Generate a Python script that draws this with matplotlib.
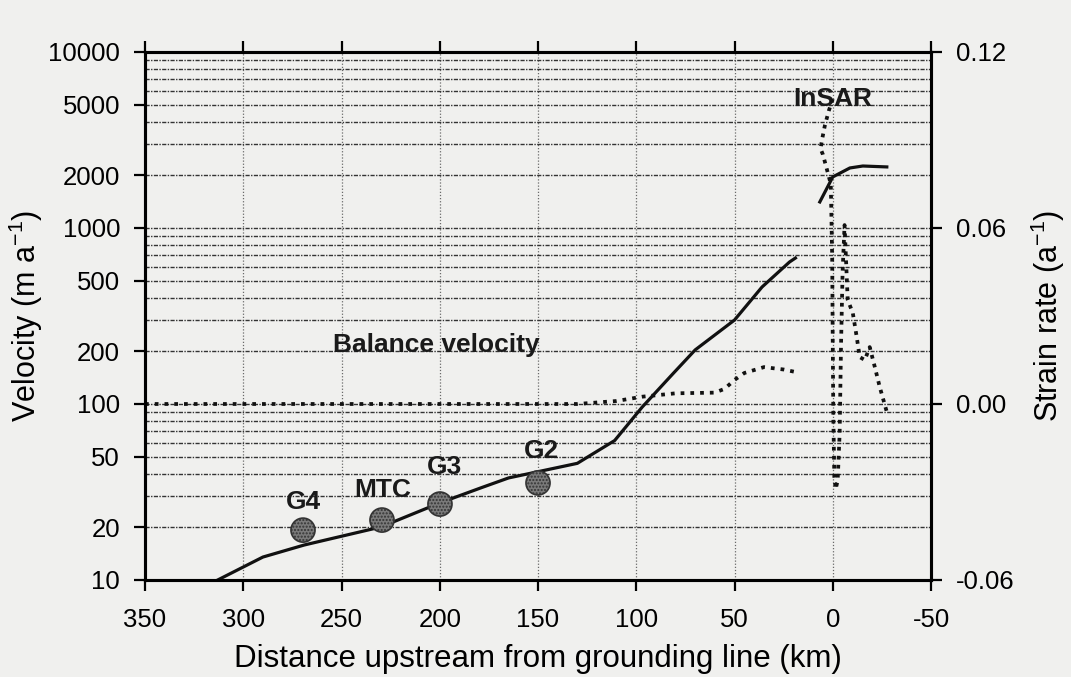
import numpy as np
import matplotlib
matplotlib.use('Agg')
import matplotlib.pyplot as plt
from matplotlib.ticker import FixedLocator, LogLocator, NullFormatter

plt.rcParams['font.family'] = ['Liberation Sans', 'DejaVu Sans']
plt.rcParams['axes.unicode_minus'] = False
plt.rcParams['mathtext.default'] = 'regular'
plt.rcParams['hatch.color'] = '#333333'

# modelled velocity along the flowline (km upstream, m/a)
model_km = [313, 290, 269, 230, 200, 179, 165, 130, 111, 97, 81, 70, 50, 36, 22, 19]
model_vel = [10, 13.5, 15.8, 20, 27.4, 33.4, 38, 46, 62, 96, 150, 203, 300, 462, 641, 675]

# balance velocity
bal_km = [350, 130, 125, 110, 97, 80, 60, 55, 50, 45, 35, 25, 19]
bal_vel = [100, 100, 101, 104, 110, 115, 116, 122, 137, 150, 162, 157, 152]

# InSAR velocity near the grounding line
insar_km = [6.6, 0.0, -8.7, -15.3, -27.5]
insar_vel = [1406, 1950, 2193, 2250, 2223]

# InSAR strain rate (1/a)
strain_km = [0.0, 2.0, 4.0, 5.5, 6.2, 5.0, 1.0, 0.3, 0.0, -0.3, -0.8, -1.5, -2.5, -3.5,
             -4.2, -5.0, -6.0, -7.6, -10.2, -12.2, -13.7, -16.3, -18.8, -21.4, -23.9, -27.5]
strain = [0.104, 0.100, 0.095, 0.090, 0.087, 0.085, 0.075, 0.050, 0.020, -0.005, -0.025,
          -0.029, -0.026, -0.010, 0.020, 0.045, 0.061, 0.0355, 0.031, 0.0228, 0.016, 0.015,
          0.0194, 0.0126, 0.0058, -0.0027]

# GPS / survey sites
site_names = ['G4', 'MTC', 'G3', 'G2']
site_km = [269.6, 229.4, 199.9, 150.0]
site_vel = [19.2, 21.9, 27.0, 35.6]

xticks = [350, 300, 250, 200, 150, 100, 50, 0, -50]
yticks = [10, 20, 50, 100, 200, 500, 1000, 2000, 5000, 10000]
strain_ticks = [-0.06, 0.0, 0.06, 0.12]

bg = '#f0f0ee'
fig = plt.figure(figsize=(10.71, 6.77), dpi=100, facecolor=bg)
ax = fig.add_axes([0.1354, 0.1433, 0.7339, 0.7799])
ax.set_facecolor(bg)

ax.set_xlim(350, -50)
ax.set_yscale('log')
ax.set_ylim(10, 10000)

ax.xaxis.set_major_locator(FixedLocator(xticks))
ax.set_xticklabels([str(t) for t in xticks])
ax.yaxis.set_major_locator(FixedLocator(yticks))
ax.set_yticklabels([str(t) for t in yticks])
ax.yaxis.set_minor_locator(LogLocator(base=10, subs=range(1, 10)))
ax.yaxis.set_minor_formatter(NullFormatter())

ax.grid(axis='y', which='both', color='#333333', linestyle=(0, (3, 1, 1, 1)), linewidth=1.0)
ax.grid(axis='x', which='major', color='#6a6a6a', linestyle=(0, (1, 1.5)), linewidth=0.9)

ax.tick_params(axis='both', which='major', direction='out', length=8, width=1.6,
               labelsize=18.5, top=True)
ax.tick_params(axis='y', which='major', pad=10)
ax.tick_params(axis='x', which='major', pad=12)
ax.tick_params(axis='y', which='minor', length=0)
for s in ax.spines.values():
    s.set_linewidth(2.2)

ax.plot(model_km, model_vel, color='#111111', lw=2.3, zorder=4)
ax.plot(bal_km, bal_vel, color='#111111', lw=2.7, linestyle=(0, (1, 1.6)), zorder=4)
ax.plot(insar_km, insar_vel, color='#111111', lw=2.3, zorder=4)

ax.scatter(site_km, site_vel, s=300, facecolor='#7a7a7a', edgecolors='#333333',
           linewidths=1.2, hatch='.....', zorder=5)

label_pos = [(269.6, 27.7), (228.9, 32.5), (197.8, 43.9), (148.4, 54.1)]
for name, (px, py) in zip(site_names, label_pos):
    ax.text(px, py, name, ha='center', va='center', fontsize=19, fontweight='bold',
            color='#1a1a1a', zorder=6)

ax.text(254.3, 216, 'Balance velocity', ha='left', va='center', fontsize=19,
        fontweight='bold', color='#1a1a1a', zorder=6)
ax.text(0, 5408, 'InSAR', ha='center', va='center', fontsize=19,
        fontweight='bold', color='#1a1a1a', zorder=6)

ax.set_xlabel('Distance upstream from grounding line (km)', fontsize=22.5, labelpad=9)
ax.set_ylabel('Velocity (m a$^{-1}$)', fontsize=22, labelpad=2)

ax2 = ax.twinx()
ax2.set_ylim(-0.06, 0.12)
ax2.yaxis.set_major_locator(FixedLocator(strain_ticks))
ax2.set_yticklabels(['%.2f' % t for t in strain_ticks])
ax2.tick_params(axis='y', direction='out', length=8, width=1.6, labelsize=18.5, pad=10)
for s in ax2.spines.values():
    s.set_linewidth(2.2)
ax2.plot(strain_km, strain, color='#111111', lw=2.7, linestyle=(0, (1, 1.4)), zorder=4)
ax2.set_ylabel('Strain rate (a$^{-1}$)', fontsize=22, labelpad=10)

fig.savefig('out.png', dpi=100, facecolor=bg)
